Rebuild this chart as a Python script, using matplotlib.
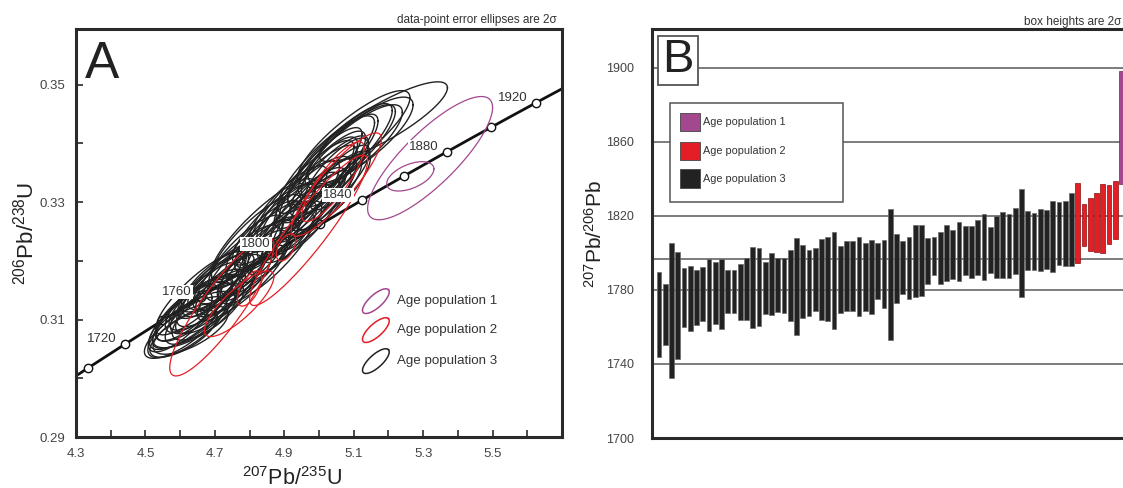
import numpy as np
import matplotlib
matplotlib.use("Agg")
import matplotlib.pyplot as plt
from matplotlib.patches import Rectangle
from matplotlib.ticker import FixedLocator

plt.rcParams['font.family'] = ['Liberation Sans', 'DejaVu Sans']
plt.rcParams['mathtext.fontset'] = 'custom'
plt.rcParams['mathtext.rm'] = 'Liberation Sans'

# ---- panel A: error ellipses (centre x, centre y, 2s x, 2s y, rho) ----
pop3_cx = [4.60, 4.62, 4.63, 4.61, 4.64, 4.65, 4.62, 4.66, 4.67, 4.63,
           4.68, 4.69, 4.66, 4.70, 4.71, 4.64, 4.72, 4.68, 4.73, 4.74,
           4.60, 4.70, 4.75, 4.76, 4.66,
           4.77, 4.78, 4.79, 4.80, 4.81, 4.82, 4.83, 4.84, 4.85, 4.86,
           4.87, 4.88, 4.89, 4.90, 4.91, 4.92, 4.93, 4.94, 4.95, 4.96,
           4.84, 4.97,
           4.98, 4.99, 5.00, 5.01, 5.02, 5.03, 5.04, 5.05, 5.03, 5.06,
           5.00, 5.02, 5.04, 5.06, 5.08, 5.10, 5.12, 5.10, 5.185, 4.95]
pop3_cy = [0.3080, 0.3087, 0.3107, 0.3076, 0.3118, 0.3114, 0.3112, 0.3110, 0.3138, 0.3082,
           0.3131, 0.3155, 0.3128, 0.3131, 0.3159, 0.3100, 0.3155, 0.3113, 0.3175, 0.3158,
           0.3097, 0.3165, 0.3177, 0.3163, 0.3145,
           0.3194, 0.3169, 0.3215, 0.3201, 0.3192, 0.3238, 0.3208, 0.3239, 0.3205, 0.3241,
           0.3262, 0.3232, 0.3263, 0.3239, 0.3293, 0.3271, 0.3266, 0.3300, 0.3266, 0.3302,
           0.3254, 0.3295,
           0.3285, 0.3326, 0.3307, 0.3343, 0.3314, 0.3344, 0.3320, 0.3351, 0.3359, 0.3342,
           0.3347, 0.3364, 0.3370, 0.3382, 0.3388, 0.3395, 0.3405, 0.3410, 0.3437, 0.3310]
pop3_sx = [0.103, 0.113, 0.119, 0.097, 0.108, 0.130, 0.092, 0.103, 0.113, 0.108,
           0.108, 0.097, 0.092, 0.113, 0.103, 0.119, 0.130, 0.103, 0.108, 0.097,
           0.092, 0.097, 0.113, 0.103, 0.130,
           0.119, 0.130, 0.108, 0.124, 0.103, 0.130, 0.113, 0.108, 0.135, 0.103,
           0.119, 0.113, 0.130, 0.108, 0.113, 0.140, 0.108, 0.119, 0.113, 0.130,
           0.151, 0.108,
           0.113, 0.119, 0.108, 0.124, 0.103, 0.113, 0.108, 0.092, 0.081, 0.086,
           0.124, 0.140, 0.130, 0.151, 0.140, 0.140, 0.151, 0.162, 0.185, 0.151]
pop3_sy = [0.0046, 0.0052, 0.0058, 0.0040, 0.0055, 0.0063, 0.0048, 0.0052, 0.0060, 0.0041,
           0.0055, 0.0053, 0.0046, 0.0055, 0.0054, 0.0048, 0.0067, 0.0048, 0.0058, 0.0053,
           0.0052, 0.0052, 0.0060, 0.0055, 0.0071,
           0.0067, 0.0071, 0.0063, 0.0069, 0.0060, 0.0075, 0.0067, 0.0064, 0.0078, 0.0060,
           0.0069, 0.0069, 0.0075, 0.0063, 0.0069, 0.0080, 0.0064, 0.0071, 0.0069, 0.0076,
           0.0086, 0.0064,
           0.0069, 0.0071, 0.0067, 0.0078, 0.0063, 0.0069, 0.0067, 0.0058, 0.0052, 0.0055,
           0.0080, 0.0083, 0.0080, 0.0086, 0.0078, 0.0071, 0.0074, 0.0080, 0.0068, 0.0095]
pop3_rho = [0.75, 0.75, 0.78, 0.70, 0.78, 0.80, 0.75, 0.76, 0.80, 0.68,
            0.78, 0.78, 0.74, 0.78, 0.78, 0.72, 0.82, 0.74, 0.80, 0.78,
            0.76, 0.78, 0.80, 0.78, 0.84,
            0.82, 0.84, 0.82, 0.84, 0.80, 0.84, 0.82, 0.82, 0.85, 0.80,
            0.83, 0.83, 0.84, 0.82, 0.83, 0.86, 0.82, 0.84, 0.83, 0.85,
            0.87, 0.82,
            0.83, 0.84, 0.82, 0.85, 0.82, 0.83, 0.82, 0.80, 0.78, 0.80,
            0.86, 0.86, 0.85, 0.86, 0.85, 0.82, 0.82, 0.85, 0.85, 0.88]

pop2_cx = [4.72, 4.77, 4.80, 4.905, 4.97, 5.05, 5.04]
pop2_cy = [0.3122, 0.3127, 0.3153, 0.3223, 0.3252, 0.3330, 0.3335]
pop2_sx = [0.150, 0.100, 0.035, 0.028, 0.170, 0.130, 0.090]
pop2_sy = [0.0118, 0.0056, 0.0030, 0.0023, 0.0128, 0.0088, 0.0068]
pop2_rho = [0.88, 0.82, 0.60, 0.50, 0.92, 0.88, 0.84]

pop1_cx = [5.32, 5.263]
pop1_cy = [0.3375, 0.3344]
pop1_sx = [0.180, 0.068]
pop1_sy = [0.0105, 0.0025]
pop1_rho = [0.82, 0.50]

marker_ages = [1700, 1720, 1740, 1760, 1780, 1800, 1820, 1840,
               1860, 1880, 1900, 1920]
label_ages = [1720, 1760, 1800, 1840, 1880, 1920]

# ---- panel B: 207Pb/206Pb ages, 2s box limits ----
pop3_lo = [1744.0, 1750.2, 1732.5, 1742.7, 1760.0, 1757.9, 1761.0, 1763.0, 1757.8, 1761.7,
           1758.8, 1767.8, 1767.8, 1763.9, 1763.9, 1759.4, 1760.6, 1766.9, 1766.4, 1768.3,
           1767.8, 1763.0, 1755.6, 1764.8, 1766.0, 1768.7, 1763.9, 1763.3, 1758.8, 1767.4,
           1768.7, 1768.7, 1766.0, 1768.7, 1766.9, 1775.0, 1770.5, 1753.0, 1772.8, 1777.7,
           1775.0, 1776.4, 1776.8, 1783.0, 1787.9, 1783.0, 1784.8, 1785.7, 1784.8, 1787.9,
           1786.6, 1788.1, 1785.4, 1789.0, 1786.6, 1786.3, 1786.6, 1788.4, 1776.2, 1790.8,
           1790.8, 1790.2, 1791.1, 1789.9, 1793.3, 1792.9, 1792.9]
pop3_hi = [1789.7, 1783.4, 1805.1, 1800.6, 1792.0, 1792.7, 1790.6, 1792.4, 1796.5, 1795.0,
           1796.9, 1790.8, 1790.8, 1793.8, 1797.4, 1803.3, 1802.6, 1795.0, 1799.7, 1797.4,
           1797.4, 1801.5, 1808.0, 1804.2, 1801.5, 1802.4, 1807.6, 1808.7, 1811.4, 1803.7,
           1806.2, 1806.2, 1808.7, 1805.5, 1806.9, 1805.3, 1806.9, 1823.9, 1810.3, 1806.4,
           1808.7, 1815.3, 1815.0, 1807.8, 1808.7, 1811.4, 1815.0, 1812.6, 1816.8, 1814.4,
           1814.4, 1817.7, 1821.1, 1814.1, 1820.2, 1822.2, 1821.1, 1824.3, 1834.5, 1822.5,
           1821.6, 1824.0, 1823.4, 1828.3, 1827.7, 1828.3, 1832.4]
pop2_lo = [1794.6, 1803.7, 1801.0, 1800.5, 1800.0, 1804.6, 1807.3]
pop2_hi = [1837.9, 1826.4, 1829.8, 1832.6, 1837.0, 1836.8, 1838.8]
pop1_lo = [1837.5]
pop1_hi = [1898.5]
mean_age = 1796.6
age_ticks = [1700, 1740, 1780, 1820, 1860, 1900]

c_pop1 = '#a3478f'
c_pop2 = '#e31e24'
c_pop3 = '#222222'
c_spine = '#2a2a2a'
c_tick = '#444444'

L238 = 1.55125e-4   # 1/Ma
L235 = 9.8485e-4


def concordia(t):
    t = np.asarray(t, dtype=float)
    return np.exp(L235 * t) - 1, np.exp(L238 * t) - 1


def ellipse_xy(cx, cy, sx, sy, rho, n=160):
    a = np.linspace(0, 2 * np.pi, n)
    x = cx + sx * np.cos(a)
    y = cy + sy * (rho * np.cos(a) + np.sqrt(1 - rho ** 2) * np.sin(a))
    return x, y


fig = plt.figure(figsize=(11.23, 4.88), dpi=100)
axA = fig.add_axes([76 / 1123, 1 - 437 / 488, 486 / 1123, 408 / 488])
axB = fig.add_axes([652 / 1123, 1 - 438 / 488, 483 / 1123, 409 / 488])

# ---------------- A: concordia diagram ----------------
tc = np.linspace(1650, 2000, 400)
xc, yc = concordia(tc)
axA.plot(xc, yc, color='#111111', lw=2.0, zorder=1)
xm, ym = concordia(marker_ages)
axA.plot(xm, ym, 'o', ms=6, mfc='white', mec='#111111', mew=1.0, zorder=2)

for cx, cy, sx, sy, r in zip(pop3_cx, pop3_cy, pop3_sx, pop3_sy, pop3_rho):
    ex, ey = ellipse_xy(cx, cy, sx, sy, r)
    axA.plot(ex, ey, color=c_pop3, lw=1.0, zorder=3)
for cx, cy, sx, sy, r in zip(pop2_cx, pop2_cy, pop2_sx, pop2_sy, pop2_rho):
    ex, ey = ellipse_xy(cx, cy, sx, sy, r)
    axA.plot(ex, ey, color=c_pop2, lw=0.9, zorder=4)
for cx, cy, sx, sy, r in zip(pop1_cx, pop1_cy, pop1_sx, pop1_sy, pop1_rho):
    ex, ey = ellipse_xy(cx, cy, sx, sy, r)
    axA.plot(ex, ey, color=c_pop1, lw=0.9, zorder=4)

xl, yl = concordia(label_ages)
for age, lx, ly in zip(label_ages, xl, yl):
    axA.annotate(str(age), (lx, ly), xytext=(-17, 3.5), textcoords='offset points',
                 ha='center', va='center', fontsize=9.5, color='#333333', zorder=6,
                 bbox=dict(boxstyle='square,pad=0.08', fc='white', ec='none'))

axA.set_xlim(4.3, 5.7)
axA.set_ylim(0.29, 0.3595)
axA.xaxis.set_major_locator(FixedLocator([4.3, 4.5, 4.7, 4.9, 5.1, 5.3, 5.5]))
axA.xaxis.set_minor_locator(FixedLocator([4.4, 4.6, 4.8, 5.0, 5.2, 5.4, 5.6]))
axA.yaxis.set_major_locator(FixedLocator([0.29, 0.31, 0.33, 0.35]))
axA.yaxis.set_minor_locator(FixedLocator([0.30, 0.32, 0.34]))
axA.xaxis.set_major_formatter(plt.FuncFormatter(lambda v, p: f'{v:.1f}'))
axA.yaxis.set_major_formatter(plt.FuncFormatter(lambda v, p: f'{v:.2f}'))
axA.tick_params(which='both', direction='in', length=5, width=1.2, color=c_spine,
                labelsize=9.5, labelcolor=c_tick)
axA.tick_params(axis='y', which='both', pad=8)
axA.tick_params(axis='x', which='both', pad=8)
for s in axA.spines.values():
    s.set_linewidth(2.2)
    s.set_color(c_spine)

axA.text(0.018, 0.88, 'A', transform=axA.transAxes, fontsize=37, color='#222222',
         ha='left', va='baseline')

# ellipse legend
legend_y = [0.333, 0.262, 0.186]
legend_c = [c_pop1, c_pop2, c_pop3]
legend_t = ['Age population 1', 'Age population 2', 'Age population 3']
wpx, hpx = 486.0, 408.0
ang = np.deg2rad(42)
a = np.linspace(0, 2 * np.pi, 100)
for ly, lc, lt in zip(legend_y, legend_c, legend_t):
    dx = 17 * np.cos(a) * np.cos(ang) - 6.5 * np.sin(a) * np.sin(ang)
    dy = 17 * np.cos(a) * np.sin(ang) + 6.5 * np.sin(a) * np.cos(ang)
    axA.plot(0.617 + dx / wpx, ly + dy / hpx, color=lc, lw=1.1,
             transform=axA.transAxes)
    axA.text(0.660, ly, lt, transform=axA.transAxes, fontsize=9.6,
             color='#333333', ha='left', va='center')

axA.set_ylabel(r'$\mathregular{^{206}}$Pb/$\mathregular{^{238}}$U', fontsize=16,
               color='#222222', labelpad=0.5)
fig.text(292 / 1123, 0.006, r'$\mathregular{^{207}}$Pb/$\mathregular{^{235}}$U',
         fontsize=15.5, color='#222222', ha='center', va='baseline')
fig.text(557 / 1123, 1 - 20 / 488, 'data-point error ellipses are 2σ',
         fontsize=8.5, color='#333333', ha='right', va='center')

# ---------------- B: ranked age boxes ----------------
n3, n2 = len(pop3_lo), len(pop2_lo)
x3 = np.arange(n3)
x2 = np.arange(n3, n3 + n2)
x1 = np.arange(n3 + n2, n3 + n2 + len(pop1_lo))

for yv in age_ticks[1:]:
    axB.axhline(yv, color='#666666', lw=1.2, zorder=1)
axB.axhline(mean_age, color='#666666', lw=1.2, zorder=1)

bw = 0.74
axB.bar(x3, np.subtract(pop3_hi, pop3_lo), bottom=pop3_lo, width=bw,
        color=c_pop3, edgecolor='#6a6a6a', linewidth=0.5, zorder=2)
axB.bar(x2, np.subtract(pop2_hi, pop2_lo), bottom=pop2_lo, width=bw,
        color=c_pop2, edgecolor='#8a1010', linewidth=0.5, zorder=2)
axB.bar(x1, np.subtract(pop1_hi, pop1_lo), bottom=pop1_lo, width=bw,
        color=c_pop1, edgecolor='#6a2a5a', linewidth=0.5, zorder=2)

axB.set_xlim(-1.12, 76.16)
axB.set_ylim(1700, 1921)
axB.set_xticks([])
axB.set_yticks(age_ticks)
axB.tick_params(axis='y', length=0, pad=13, labelsize=9, labelcolor=c_tick)
for s in axB.spines.values():
    s.set_linewidth(2.2)
    s.set_color(c_spine)

axB.add_patch(Rectangle((0.0124, 0.863), 0.0828, 0.12, transform=axB.transAxes,
                        fc='white', ec='#555555', lw=1.3, zorder=5))
axB.text(0.0538, 0.923, 'B', transform=axB.transAxes, fontsize=34,
         color='#222222', ha='center', va='center', zorder=6)

axB.add_patch(Rectangle((0.0373, 0.577), 0.358, 0.242, transform=axB.transAxes,
                        fc='white', ec='#555555', lw=1.1, zorder=5))
for ly, lc, lt in zip([0.7726, 0.7017, 0.6333], legend_c, legend_t):
    axB.add_patch(Rectangle((0.0580, ly - 0.0232), 0.0414, 0.0464,
                            transform=axB.transAxes, fc=lc, ec='#444444',
                            lw=0.6, zorder=6))
    axB.text(0.1056, ly, lt, transform=axB.transAxes, fontsize=7.8,
             color='#333333', ha='left', va='center', zorder=6)

axB.set_ylabel(r'$\mathregular{^{207}}$Pb/$\mathregular{^{206}}$Pb', fontsize=15,
               color='#222222', labelpad=0)
fig.text(1121 / 1123, 1 - 22 / 488, 'box heights are 2σ',
         fontsize=8.5, color='#333333', ha='right', va='center')

fig.savefig('out.png', dpi=100)
